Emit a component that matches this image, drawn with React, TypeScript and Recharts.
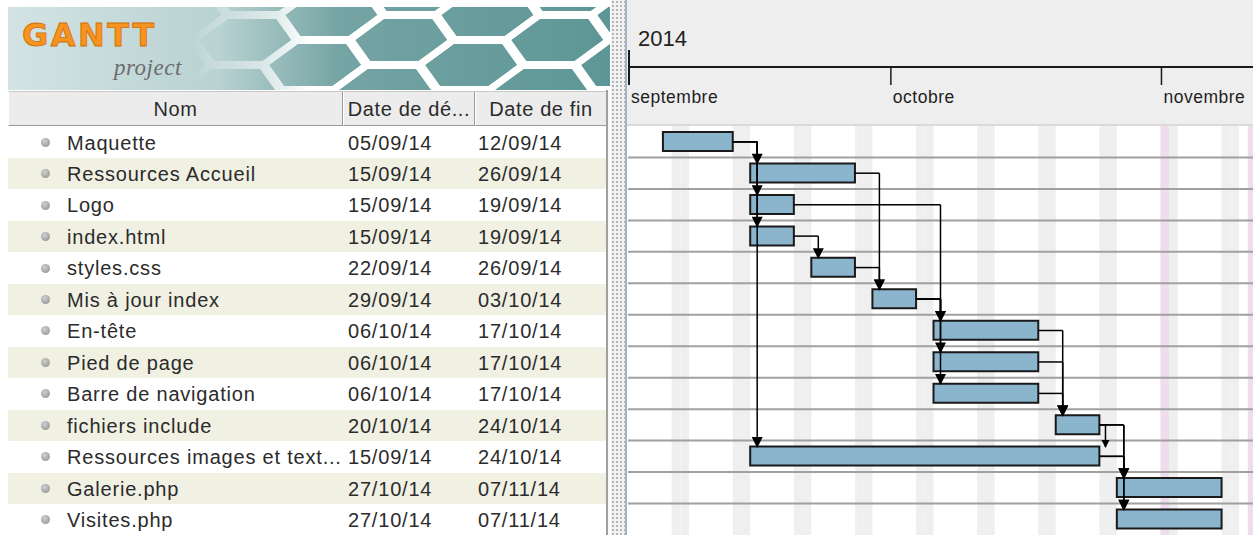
import React from 'react';
import {
  ComposedChart,
  Bar,
  XAxis,
  YAxis,
  ReferenceArea,
  ReferenceLine,
  ReferenceDot,
} from 'recharts';

// Tasks as listed in the GanttProject table
const taskNames = [
  'Maquette',
  'Ressources Accueil',
  'Logo',
  'index.html',
  'styles.css',
  'Mis à jour index',
  'En-tête',
  'Pied de page',
  'Barre de navigation',
  'fichiers include',
  'Ressources images et text...',
  'Galerie.php',
  'Visites.php',
];
const startDates = [
  '05/09/14', '15/09/14', '15/09/14', '15/09/14', '22/09/14', '29/09/14', '06/10/14',
  '06/10/14', '06/10/14', '20/10/14', '15/09/14', '27/10/14', '27/10/14',
];
const endDates = [
  '12/09/14', '26/09/14', '19/09/14', '19/09/14', '26/09/14', '03/10/14', '17/10/14',
  '17/10/14', '17/10/14', '24/10/14', '24/10/14', '07/11/14', '07/11/14',
];

// finish-to-start links [from, to], and finish-to-finish links
const fsLinks = [
  [0, 1], [0, 2], [0, 3], [0, 10], [1, 5], [2, 6], [3, 4], [4, 5], [5, 6], [5, 7], [5, 8],
  [6, 9], [7, 9], [8, 9], [9, 11], [9, 12], [10, 11], [10, 12],
];
const ffLinks = [[9, 10]];

const yearLabel = '2014';
const monthStarts = ['01/09/14', '01/10/14', '01/11/14'];
const monthLabels = ['septembre', 'octobre', 'novembre'];
const holidays = ['01/11/14', '11/11/14'];
const viewStart = '01/09/14';
const viewDays = 71.6;

const columnHeaders = ['Nom', 'Date de dé...', 'Date de fin'];

const DAY = 86400000;
const parseDate = (s: string) => {
  const [d, m, y] = s.split('/').map(Number);
  return Date.UTC(2000 + y, m - 1, d);
};
const origin = parseDate(viewStart);
const dayOf = (s: string) => Math.round((parseDate(s) - origin) / DAY);

const mid = (i: number) => i + 0.5; // row centre on the numeric row axis

const rows = taskNames.map((name, i) => ({
  name,
  slot: mid(i),
  range: [dayOf(startDates[i]), dayOf(endDates[i]) + 1],
}));

const monthDays = monthStarts.map(dayOf);
const holidayDays = holidays.map(dayOf);
const weekendDays: number[] = [];
for (let d = 0; d < Math.ceil(viewDays); d++) {
  const wd = new Date(origin + d * DAY).getUTCDay();
  if ((wd === 0 || wd === 6) && !holidayDays.includes(d)) weekendDays.push(d);
}

const ARROW_DX = 0.8; // days from task start where the arrow lands
const FF_DX = 0.7;
const BAR_HALF = 0.3; // half bar height in row units

type Seg = { x1: number; y1: number; x2: number; y2: number };
const segments: Seg[] = [];
const arrows: { x: number; y: number; small?: boolean }[] = [];
fsLinks.forEach(([a, b]) => {
  const x0 = rows[a].range[1];
  const xt = rows[b].range[0] + ARROW_DX;
  segments.push({ x1: x0, y1: mid(a), x2: xt, y2: mid(a) });
  segments.push({ x1: xt, y1: mid(a), x2: xt, y2: mid(b) - BAR_HALF });
  arrows.push({ x: xt, y: mid(b) - BAR_HALF });
});
ffLinks.forEach(([a, b]) => {
  const x0 = rows[a].range[1];
  const xt = rows[b].range[1] + FF_DX;
  segments.push({ x1: x0, y1: mid(a), x2: xt, y2: mid(a) });
  segments.push({ x1: xt, y1: mid(a), x2: xt, y2: mid(b) - BAR_HALF });
  arrows.push({ x: xt, y: mid(b) - BAR_HALF, small: true });
});

const ROW_TOP = 126.5;
const ROW_H = 31.46;
const font = '"Liberation Sans", Arial, sans-serif';

const MonthTick = (props: any) => {
  const { x, y, payload } = props;
  const idx = monthDays.indexOf(payload.value);
  return (
    <g>
      {idx === 0 && (
        <>
          <text x={x + 10} y={y - 80} fontSize={22} fontFamily={font} fill="#222">
            {yearLabel}
          </text>
          <line x1={x} x2={x + 2000} y1={y - 59} y2={y - 59} stroke="#1a1a1a" strokeWidth={2} />
          <line x1={x + 1} x2={x + 1} y1={y - 76} y2={y - 41} stroke="#1a1a1a" strokeWidth={2} />
        </>
      )}
      <line x1={x + 1} x2={x + 1} y1={y - 59} y2={y - 41} stroke="#1a1a1a" strokeWidth={1.5} />
      <text x={x + 3} y={y - 23} fontSize={17.5} fontFamily={font} fill="#1e1e1e" letterSpacing={0.5}>
        {monthLabels[idx]}
      </text>
    </g>
  );
};

const arrowShape = (small?: boolean) => (p: any) => {
  const w = small ? 4 : 5.5;
  const h = small ? 7 : 10;
  return (
    <path
      d={`M${p.cx - w},${p.cy - h} L${p.cx + w},${p.cy - h} L${p.cx},${p.cy + 1} Z`}
      fill="#000"
    />
  );
};

const Banner = () => {
  const hexes: string[] = [];
  for (let c = 0; c < 10; c++) {
    for (let r = -1; r < 3; r++) {
      const cx = 170 + c * 78;
      const cy = r * 50 + (c % 2 ? 25 : 0) + 8;
      hexes.push(
        `M${cx - 52},${cy} L${cx - 26},${cy - 25} L${cx + 26},${cy - 25} L${cx + 52},${cy} L${cx + 26},${cy + 25} L${cx - 26},${cy + 25} Z`
      );
    }
  }
  return (
    <svg width={602} height={83} style={{ position: 'absolute', left: 8, top: 7 }}>
      <defs>
        <linearGradient id="bg" x1="0" y1="0" x2="1" y2="0">
          <stop offset="0" stopColor="#d3e3e3" />
          <stop offset="0.35" stopColor="#b9d2d2" />
          <stop offset="0.55" stopColor="#75a4a4" />
          <stop offset="1" stopColor="#5d9696" />
        </linearGradient>
        <linearGradient id="fade" x1="0" y1="0" x2="1" y2="0">
          <stop offset="0.3" stopColor="#000" />
          <stop offset="0.5" stopColor="#fff" />
        </linearGradient>
        <mask id="netmask">
          <rect width={602} height={83} fill="url(#fade)" />
        </mask>
      </defs>
      <rect width={602} height={83} fill="url(#bg)" />
      <g mask="url(#netmask)">
        <g transform="skewX(-18)">
          {hexes.map((d, i) => (
            <path key={i} d={d} fill="none" stroke="#fff" strokeWidth={8} />
          ))}
        </g>
      </g>
      <text
        x={14}
        y={39}
        fontSize={32}
        fontWeight="bold"
        fontFamily={'"DejaVu Sans", sans-serif'}
        fill="#f7931e"
        stroke="#d06f0a"
        strokeWidth={0.8}
        letterSpacing={2.5}
      >
        GANTT
      </text>
      <text
        x={106}
        y={68}
        fontSize={23}
        fontStyle="italic"
        fontFamily={'"Liberation Serif", serif'}
        fill="#6c6c6c"
        letterSpacing={0.5}
      >
        project
      </text>
    </svg>
  );
};

const cellText: React.CSSProperties = {
  position: 'absolute',
  fontFamily: font,
  fontSize: 20,
  letterSpacing: 0.8,
  color: '#2b2b2b',
  whiteSpace: 'nowrap',
};

const headerCols = [
  { left: 8, width: 335 },
  { left: 343, width: 132 },
  { left: 475, width: 132 },
];

export default function App() {
  return (
    <div
      style={{
        position: 'absolute',
        left: 0,
        top: 0,
        width: 1253,
        height: 535,
        overflow: 'hidden',
        background: '#fff',
      }}
    >
      <Banner />
      {headerCols.map((c, i) => (
        <div
          key={i}
          style={{
            position: 'absolute',
            left: c.left,
            top: 91,
            width: c.width - 2,
            height: 31,
            background: '#ececec',
            borderTop: '1px solid #c8c8c8',
            borderLeft: '1px solid #fff',
            borderRight: '1px solid #9a9a9a',
            borderBottom: '1px solid #9a9a9a',
            display: 'flex',
            alignItems: 'center',
            justifyContent: 'center',
            paddingTop: 2,
            fontFamily: font,
            fontSize: 20,
            letterSpacing: 0.6,
            color: '#2b2b2b',
            whiteSpace: 'nowrap',
          }}
        >
          {columnHeaders[i]}
        </div>
      ))}
      {taskNames.map((name, i) => (
        <div
          key={name}
          style={{
            position: 'absolute',
            left: 8,
            top: ROW_TOP + i * ROW_H,
            width: 598,
            height: ROW_H,
            background: i % 2 ? '#f0f0e3' : '#fff',
          }}
        >
          <div
            style={{
              position: 'absolute',
              left: 33,
              top: ROW_H / 2 - 4.5,
              width: 9,
              height: 9,
              borderRadius: '50%',
              background: 'radial-gradient(circle at 40% 35%, #d0d0d0, #8c8c8c)',
            }}
          />
          <div style={{ ...cellText, left: 59, top: 5 }}>{name}</div>
          <div style={{ ...cellText, left: 340, top: 5 }}>{startDates[i]}</div>
          <div style={{ ...cellText, left: 470, top: 5 }}>{endDates[i]}</div>
        </div>
      ))}
      {/* table right border and splitter */}
      <div style={{ position: 'absolute', left: 606, top: 90, width: 2, height: 445, background: '#a0a0a0' }} />
      <div
        style={{
          position: 'absolute',
          left: 611,
          top: 0,
          width: 14,
          height: 535,
          background: '#f2f2f2',
          backgroundImage: 'radial-gradient(#b4b4b4 0.8px, transparent 1px)',
          backgroundSize: '4px 4px',
        }}
      />
      <div style={{ position: 'absolute', left: 625, top: 0, width: 2, height: 535, background: '#a6b4c2' }} />
      <div
        style={{
          position: 'absolute',
          left: 627,
          top: 0,
          width: 626,
          height: 535,
          background: 'linear-gradient(#eeeeee 0 124px, #dadada 124px 126px, #ffffff 126px)',
        }}
      >
        <ComposedChart
          width={626}
          height={535}
          layout="vertical"
          data={rows}
          margin={{ top: 0, right: 0, bottom: 0, left: 1 }}
        >
          <XAxis
            type="number"
            orientation="top"
            domain={[0, viewDays]}
            allowDataOverflow
            ticks={monthDays}
            interval={0}
            height={126}
            axisLine={false}
            tickLine={false}
            tickSize={0}
            tickMargin={0}
            tick={(p: any) => <MonthTick {...p} />}
          />
          <YAxis yAxisId="cat" type="category" dataKey="name" hide />
          <YAxis
            yAxisId="num"
            type="number"
            dataKey="slot"
            domain={[0, taskNames.length]}
            allowDataOverflow
            hide
          />
          {weekendDays.map((d) => (
            <ReferenceArea
              key={'w' + d}
              yAxisId="num"
              x1={d}
              x2={d + 1}
              fill="#efefef"
              fillOpacity={1}
              stroke="none"
              ifOverflow="hidden"
            />
          ))}
          {holidayDays.map((d) => (
            <ReferenceArea
              key={'h' + d}
              yAxisId="num"
              x1={d}
              x2={d + 1}
              fill="#efdcef"
              fillOpacity={1}
              stroke="none"
              ifOverflow="hidden"
            />
          ))}
          {taskNames.slice(0, -1).map((_, i) => (
            <ReferenceLine key={'r' + i} yAxisId="num" y={i + 1} stroke="#a0a0a0" strokeWidth={2} />
          ))}
          <Bar
            yAxisId="cat"
            dataKey="range"
            barSize={19}
            fill="#8ab5cd"
            stroke="#1a1a1a"
            strokeWidth={2}
            isAnimationActive={false}
          />
          {segments.map((s, i) => (
            <ReferenceLine
              key={'s' + i}
              yAxisId="num"
              segment={[
                { x: s.x1, y: s.y1 },
                { x: s.x2, y: s.y2 },
              ]}
              stroke="#000"
              strokeWidth={1.5}
              ifOverflow="visible"
            />
          ))}
          {arrows.map((a, i) => (
            <ReferenceDot
              key={'a' + i}
              yAxisId="num"
              x={a.x}
              y={a.y}
              r={5}
              ifOverflow="visible"
              shape={arrowShape(a.small)}
            />
          ))}
        </ComposedChart>
      </div>
    </div>
  );
}
